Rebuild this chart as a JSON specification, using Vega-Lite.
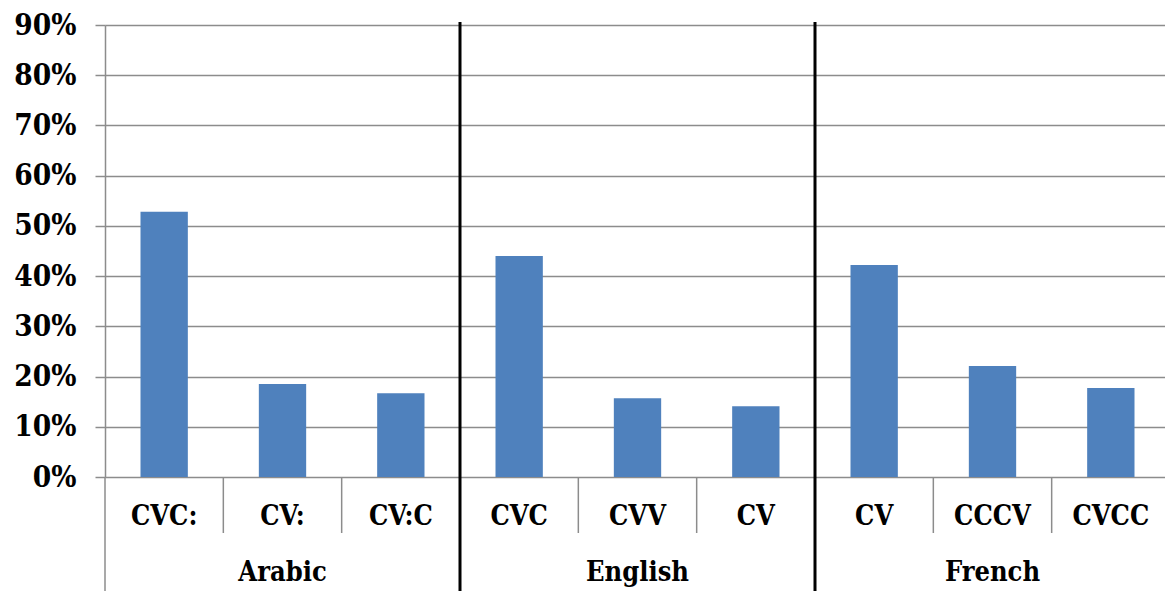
{
  "$schema": "https://vega.github.io/schema/vega-lite/v6.json",
  "autosize": {"type": "none"},
  "padding": {"left": 105, "top": 25, "right": 0, "bottom": 114},
  "width": 1065,
  "height": 452,
  "background": "white",
  "config": {
    "view": {"stroke": null},
    "font": "DejaVu Serif Condensed, DejaVu Serif, serif",
    "text": {"font": "DejaVu Serif Condensed, DejaVu Serif, serif", "fontWeight": "bold", "fontSize": 27, "color": "#000000"}
  },
  "data": {
    "values": [
      {"group": "Arabic", "key": "A1", "label": "CVC:", "value": 0.528},
      {"group": "Arabic", "key": "A2", "label": "CV:", "value": 0.185},
      {"group": "Arabic", "key": "A3", "label": "CV:C", "value": 0.167},
      {"group": "English", "key": "E1", "label": "CVC", "value": 0.440},
      {"group": "English", "key": "E2", "label": "CVV", "value": 0.157},
      {"group": "English", "key": "E3", "label": "CV", "value": 0.141},
      {"group": "French", "key": "F1", "label": "CV", "value": 0.422},
      {"group": "French", "key": "F2", "label": "CCCV", "value": 0.221},
      {"group": "French", "key": "F3", "label": "CVCC", "value": 0.177}
    ]
  },
  "encoding": {
    "x": {"field": "key", "type": "nominal", "sort": null, "axis": null, "scale": {"paddingInner": 0, "paddingOuter": 0}}
  },
  "layer": [
    {
      "mark": {"type": "bar", "width": {"band": 0.4}, "color": "#4F81BD"},
      "encoding": {
        "y": {
          "field": "value", "type": "quantitative",
          "scale": {"domain": [0, 0.9], "nice": false, "zero": true},
          "axis": {
            "title": null, "format": ".0%", "values": [0, 0.1, 0.2, 0.3, 0.4, 0.5, 0.6, 0.7, 0.8, 0.9],
            "grid": true, "gridColor": "#8c8c8c", "gridWidth": 1.5, "gridOpacity": 1,
            "domainColor": "#8c8c8c", "domainWidth": 1.5,
            "tickColor": "#8c8c8c", "tickWidth": 1.5, "tickSize": 10,
            "labelFont": "DejaVu Serif Condensed, DejaVu Serif, serif", "labelFontWeight": "bold",
            "labelFontSize": 29.5, "labelColor": "#000000", "labelPadding": 19
          }
        }
      }
    },
    {
      "transform": [{"filter": {"field": "key", "oneOf": ["A2", "A3", "E2", "E3", "F2", "F3"]}}],
      "mark": {"type": "rule", "color": "#8c8c8c", "strokeWidth": 1.5},
      "encoding": {
        "x": {"field": "key", "type": "nominal", "bandPosition": 0},
        "y": {"datum": 0},
        "y2": {"datum": -0.1115}
      }
    },
    {
      "transform": [{"filter": {"field": "key", "equal": "A1"}}],
      "mark": {"type": "rule", "color": "#8c8c8c", "strokeWidth": 1.5},
      "encoding": {
        "x": {"field": "key", "type": "nominal", "bandPosition": 0},
        "y": {"datum": 0},
        "y2": {"datum": -0.227}
      }
    },
    {
      "transform": [{"filter": {"field": "key", "oneOf": ["E1", "F1"]}}],
      "mark": {"type": "rule", "color": "#000000", "strokeWidth": 3},
      "encoding": {
        "x": {"field": "key", "type": "nominal", "bandPosition": 0},
        "y": {"datum": 0.906},
        "y2": {"datum": -0.227}
      }
    },
    {
      "mark": {"type": "text", "baseline": "middle", "align": "center"},
      "encoding": {
        "y": {"datum": -0.0803},
        "text": {"field": "label"}
      }
    },
    {
      "transform": [{"filter": {"field": "key", "oneOf": ["A2", "E2", "F2"]}}],
      "mark": {"type": "text", "baseline": "middle", "align": "center"},
      "encoding": {
        "y": {"datum": -0.192},
        "text": {"field": "group"}
      }
    }
  ]
}
